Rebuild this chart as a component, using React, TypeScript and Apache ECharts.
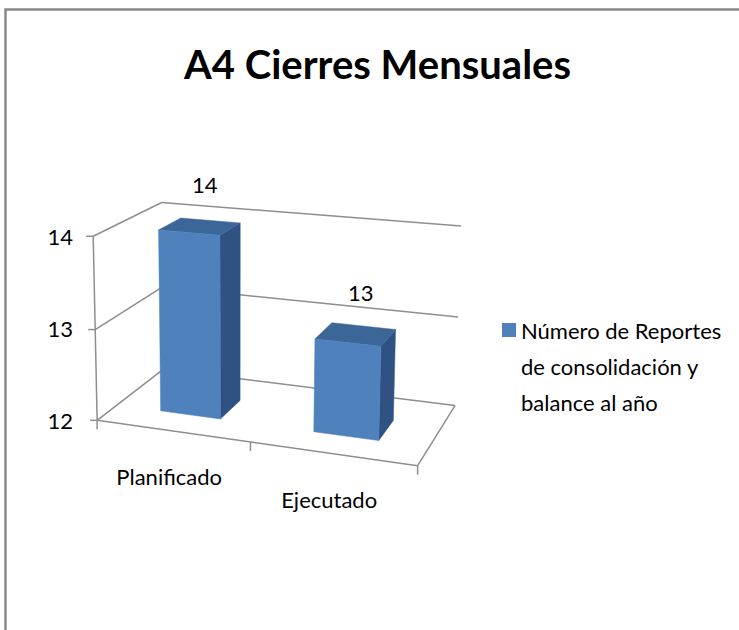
import React, { useEffect, useRef } from "react";
import * as echarts from "echarts";

// ---- data ----
const categories: string[] = ["Planificado", "Ejecutado"];
const values: number[] = [14, 13];
const yTicks: number[] = [12, 13, 14];
const seriesName = "Número de Reportes de consolidación y balance al año";
const legendLines: string[] = ["Número de Reportes", "de consolidación y", "balance al año"];
const titleText = "A4 Cierres Mensuales";

// ---- view (perspective camera fitted to the box corners: u, v, d -> screen x, y) ----
const VIEW_FIT: number[][] = [
  [0, 0, 0, 99, 420],
  [0, 1, 0, 92, 236],
  [0, 0.5, 0, 95.5, 328],
  [0, 0, 1, 162, 370],
  [0, 0.5, 1, 162, 288],
  [0, 1, 1, 163, 202],
  [1, 0, 1, 455, 403],
  [1, 0.5, 1, 460, 317],
  [1, 1, 1, 460, 227],
  [1, 0, 0, 417, 467],
  [0.5, 0, 0, 250, 443],
];
const D0 = 0.28;
const D1 = 0.62;
const BAR_FRAC = 0.4;

const FONT = "Lato, 'Open Sans', sans-serif";
const GRID_COLOR = "#8e8e8e";
const FRONT = "#4F81BD";
const TOP = "#3C6698";
const SIDE = "#2F5283";

function fitCamera(pairs: number[][]): number[] {
  const n = 11;
  const N: number[][] = Array.from({ length: n }, () => new Array(n).fill(0));
  const r: number[] = new Array(n).fill(0);
  const add = (row: number[], b: number) => {
    for (let i = 0; i < n; i++) {
      r[i] += row[i] * b;
      for (let j = 0; j < n; j++) N[i][j] += row[i] * row[j];
    }
  };
  for (const [X, Y, Z, x, y] of pairs) {
    add([X, Y, Z, 1, 0, 0, 0, 0, -x * X, -x * Y, -x * Z], x);
    add([0, 0, 0, 0, X, Y, Z, 1, -y * X, -y * Y, -y * Z], y);
  }
  for (let c = 0; c < n; c++) {
    let piv = c;
    for (let k = c + 1; k < n; k++) if (Math.abs(N[k][c]) > Math.abs(N[piv][c])) piv = k;
    [N[c], N[piv]] = [N[piv], N[c]];
    [r[c], r[piv]] = [r[piv], r[c]];
    for (let k = 0; k < n; k++) {
      if (k === c) continue;
      const f = N[k][c] / N[c][c];
      if (f === 0) continue;
      for (let j = c; j < n; j++) N[k][j] -= f * N[c][j];
      r[k] -= f * r[c];
    }
  }
  return r.map((v, i) => v / N[i][i]);
}

export default function App() {
  const ref = useRef<HTMLDivElement>(null);
  useEffect(() => {
    if (!ref.current) return;
    const chart = echarts.init(ref.current, null, { renderer: "svg" });
    const P = fitCamera(VIEW_FIT);
    const proj = (u: number, v: number, d: number): number[] => {
      const w = P[8] * u + P[9] * v + P[10] * d + 1;
      return [(P[0] * u + P[1] * v + P[2] * d + P[3]) / w, (P[4] * u + P[5] * v + P[6] * d + P[7]) / w];
    };
    const yMin = yTicks[0];
    const yMax = yTicks[yTicks.length - 1];

    const frameRender = (params: any, api: any) => {
      const cs = params.coordSys;
      const vOf = (val: number) => (cs.y + cs.height - api.coord([0, val])[1]) / cs.height;
      const uOf = (i: number) => (api.coord([i, yMin])[0] - cs.x) / cs.width;
      const band = api.size([1, 0])[0] / cs.width;
      const children: any[] = [];
      const line = (a: number[], b: number[]) =>
        children.push({
          type: "line",
          shape: { x1: a[0], y1: a[1], x2: b[0], y2: b[1] },
          style: { stroke: GRID_COLOR, lineWidth: 1.5 },
        });
      yTicks.forEach((t) => {
        const v = vOf(t);
        line(proj(0, v, 0), proj(0, v, 1));
        line(proj(0, v, 1), proj(1, v, 1));
        const p = proj(0, v, 0);
        line([p[0] - 7, p[1]], p);
      });
      line(proj(0, 0, 0), proj(0, 1, 0));
      line(proj(0, 0, 0), proj(1, 0, 0));
      line(proj(1, 0, 0), proj(1, 0, 1));
      for (let i = 0; i <= categories.length; i++) {
        const u = i === 0 ? uOf(0) - band / 2 : uOf(i - 1) + band / 2;
        const p = proj(u, 0, 0);
        line(p, [p[0], p[1] + 9]);
      }
      categories.forEach((c, i) => {
        const p = proj(uOf(i), 0, 0);
        children.push({
          type: "text",
          x: p[0] - 3,
          y: p[1] + 46,
          style: { text: c, fontSize: 22, fontFamily: FONT, fill: "#000", align: "center", verticalAlign: "middle" },
        });
      });
      return { type: "group", children };
    };

    const barRender = (params: any, api: any) => {
      const cs = params.coordSys;
      const i = api.value(0);
      const val = api.value(1);
      const [px, py] = api.coord([i, val]);
      const py0 = api.coord([i, yMin])[1];
      const uc = (px - cs.x) / cs.width;
      const hw = (api.size([1, 0])[0] * BAR_FRAC) / cs.width / 2;
      const v1 = (cs.y + cs.height - py) / cs.height;
      const v0 = (cs.y + cs.height - py0) / cs.height;
      const u0 = uc - hw;
      const u1 = uc + hw;
      const poly = (pts: number[][], fill: string) => ({
        type: "polygon",
        shape: { points: pts },
        style: { fill, stroke: fill, lineWidth: 0.5 },
      });
      const side = poly([proj(u1, v0, D0), proj(u1, v0, D1), proj(u1, v1, D1), proj(u1, v1, D0)], SIDE);
      const top = poly([proj(u0, v1, D0), proj(u1, v1, D0), proj(u1, v1, D1), proj(u0, v1, D1)], TOP);
      const front = poly([proj(u0, v0, D0), proj(u1, v0, D0), proj(u1, v1, D0), proj(u0, v1, D0)], FRONT);
      const lp = proj(uc, v1, (D0 + D1) / 2);
      const label = {
        type: "text",
        x: lp[0] + 5,
        y: lp[1] - 42,
        style: { text: String(val), fontSize: 22, fontFamily: FONT, fill: "#000", align: "center", verticalAlign: "middle" },
      };
      return { type: "group", children: [side, top, front, label] };
    };

    chart.setOption({
      animation: false,
      backgroundColor: "#fff",
      title: {
        text: titleText,
        left: 184,
        top: 44,
        padding: 0,
        textStyle: { fontFamily: FONT, fontWeight: "bold", fontSize: 40, color: "#000" },
      },
      legend: {
        data: [{ name: seriesName, icon: "rect" }],
        orient: "vertical",
        left: 502,
        top: 240,
        padding: 0,
        itemWidth: 14,
        itemHeight: 14,
        itemGap: 0,
        selectedMode: false,
        formatter: () => "\n\n" + legendLines.join("\n"),
        textStyle: { fontFamily: FONT, fontSize: 22, lineHeight: 36, color: "#000" },
      },
      grid: { left: 92, top: 236, width: 325, height: 184 },
      xAxis: { type: "category", data: categories, show: false },
      yAxis: {
        type: "value",
        min: yMin,
        max: yMax,
        interval: 1,
        axisLine: { show: false },
        axisTick: { show: false },
        splitLine: { show: false },
        axisLabel: { margin: 19, fontFamily: FONT, fontSize: 22, color: "#000" },
      },
      graphic: [
        {
          type: "rect",
          shape: { x: 5.5, y: 9.5, width: 900, height: 900 },
          style: { fill: "none", stroke: "#8a8a8a", lineWidth: 2.5 },
          silent: true,
          z: -10,
        },
      ],
      series: [
        {
          type: "custom",
          name: "frame",
          silent: true,
          z: 1,
          renderItem: frameRender,
          data: [[0, yMin]],
          encode: { x: 0, y: 1 },
        },
        {
          type: "custom",
          name: seriesName,
          z: 2,
          itemStyle: { color: FRONT },
          renderItem: barRender,
          data: values.map((v, i) => [i, v]),
          encode: { x: 0, y: 1 },
        },
      ],
    });
    return () => chart.dispose();
  }, []);
  return <div ref={ref} style={{ position: "fixed", left: 0, top: 0, width: 739, height: 630 }} />;
}
